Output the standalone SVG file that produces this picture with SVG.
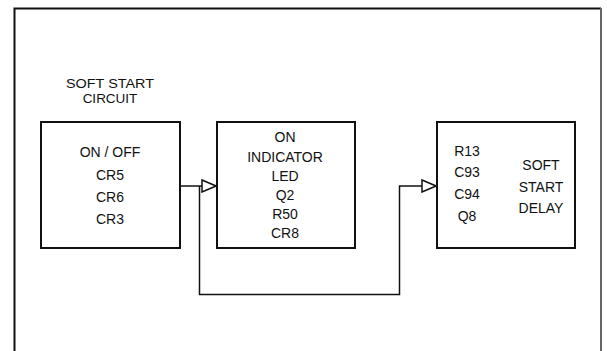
<svg xmlns="http://www.w3.org/2000/svg" width="607" height="351" viewBox="0 0 607 351">
<defs>
<style>
text{font-family:"Liberation Sans",Arial,sans-serif;font-size:14px;fill:#111;text-anchor:middle}
.ttl{font-size:13.5px}
.box{fill:#fff;stroke:#111;stroke-width:2}
.wire{fill:none;stroke:#111;stroke-width:1.5}
</style>
<marker id="arr" viewBox="0 0 16 14" refX="15" refY="7" markerWidth="16" markerHeight="14" markerUnits="userSpaceOnUse" orient="auto">
<path d="M1,1 L15,7 L1,13 Z" fill="#fff" stroke="#111" stroke-width="1.5"/>
</marker>
</defs>
<rect width="607" height="351" fill="#fff"/>
<g id="frame">
<path d="M14.5,351 V8.5 H601" fill="none" stroke="#111" stroke-width="2"/>
<path d="M601,8 V351" fill="none" stroke="#666" stroke-width="2"/>
</g>
<g id="title">
<text class="ttl" x="110" y="87.5" textLength="88" lengthAdjust="spacingAndGlyphs">SOFT START</text>
<text class="ttl" x="110" y="103">CIRCUIT</text>
</g>
<g id="node-onoff">
<rect class="box" x="41" y="122" width="139" height="126"/>
<text x="110" y="157">ON / OFF</text>
<text x="110" y="179.5">CR5</text>
<text x="110" y="201.5">CR6</text>
<text x="110" y="223.5">CR3</text>
</g>
<g id="node-indicator">
<rect class="box" x="217" y="122" width="138" height="126"/>
<text x="285" y="142.3">ON</text>
<text x="285" y="161.7">INDICATOR</text>
<text x="285" y="181">LED</text>
<text x="285" y="200">Q2</text>
<text x="285" y="219">R50</text>
<text x="285" y="238.3">CR8</text>
</g>
<g id="node-delay">
<rect class="box" x="437" y="122" width="138" height="126"/>
<text x="467" y="155.7">R13</text>
<text x="467" y="176.7">C93</text>
<text x="467" y="199">C94</text>
<text x="467" y="220.7">Q8</text>
<text x="541" y="170">SOFT</text>
<text x="541" y="191.7">START</text>
<text x="541" y="213.3">DELAY</text>
</g>
<g id="connectors">
<path class="wire" d="M180,186 H216" marker-end="url(#arr)"/>
<path class="wire" d="M199.5,186 V294.5 H399.5 V186 H436" marker-end="url(#arr)"/>
</g>
</svg>
